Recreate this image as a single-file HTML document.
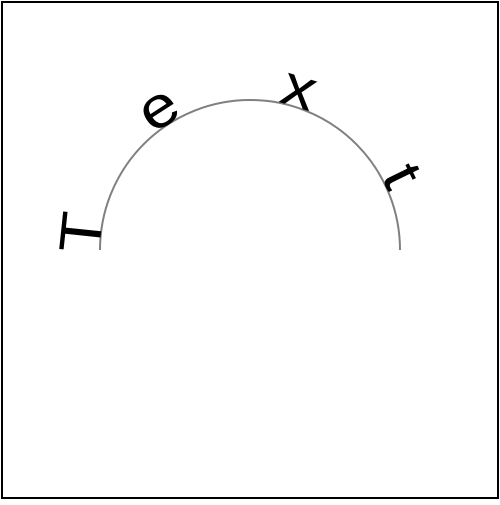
<!DOCTYPE html>
<html><head><meta charset="utf-8"><style>html,body{margin:0;padding:0;background:#fff}</style></head>
<body>
<svg width="500" height="500" viewBox="0 0 500 500">
<rect x="2" y="2" width="496" height="496" fill="#fff" stroke="#000" stroke-width="2"/>
<path d="M100,250 A150,150 0 0 1 400,250" fill="none" stroke="#808080" stroke-width="2"/>
<g id="letters" font-family="Liberation Sans, sans-serif" font-size="58" fill="#000"></g>
</svg>
<script>
const chars = ["T","e","x","t"];
const anglesDeg = [174, 123, 73, 26];
const cx = 250, cy = 250, r = 150;
const g = document.getElementById('letters');
chars.forEach((c, i) => {
  const a = anglesDeg[i] * Math.PI / 180;
  const x = cx + r * Math.cos(a), y = cy - r * Math.sin(a);
  const t = document.createElementNS('http://www.w3.org/2000/svg', 'text');
  
  
  t.setAttribute('text-anchor', 'middle');
  t.setAttribute('transform', `translate(${x} ${y}) rotate(${90 - anglesDeg[i]}) scale(1.15 1)`);
  t.setAttribute('x', 0); t.setAttribute('y', 0);
  t.textContent = c;
  g.appendChild(t);
});
</script>
</body></html>
